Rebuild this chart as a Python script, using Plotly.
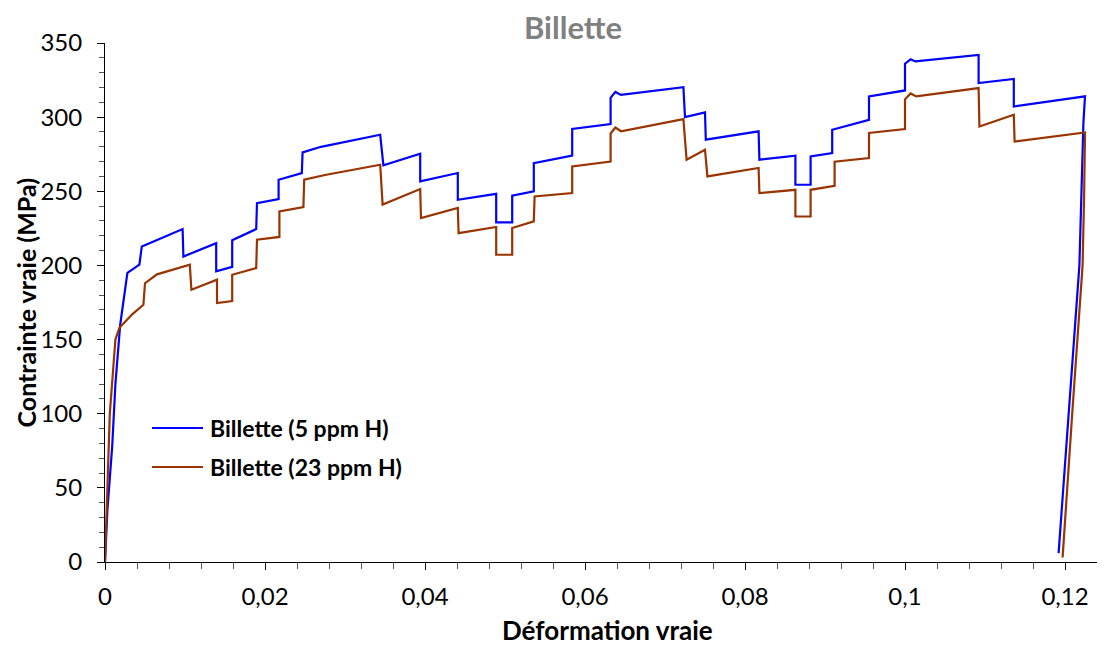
import plotly.graph_objects as go

# Billette (5 ppm H)
strain_5 = [0, 0.0003, 0.0009, 0.0013, 0.0019, 0.0028, 0.0043, 0.0046, 0.0060, 0.0097,
            0.0098, 0.0139, 0.0139, 0.0159, 0.0159, 0.0189, 0.0190, 0.0217, 0.0217, 0.0246,
            0.0247, 0.0270, 0.0344, 0.0348, 0.0394, 0.0394, 0.0441, 0.0441, 0.0489, 0.0489,
            0.0509, 0.0509, 0.0536, 0.0536, 0.0584, 0.0584, 0.0632, 0.0632, 0.0638, 0.0645,
            0.0723, 0.0725, 0.0750, 0.0751, 0.0817, 0.0818, 0.0863, 0.0863, 0.0882, 0.0882,
            0.0909, 0.0909, 0.0955, 0.0955, 0.1000, 0.1000, 0.1007, 0.1013, 0.1092, 0.1092,
            0.1136, 0.1136, 0.1225, 0.1223, 0.1218, 0.12045, 0.1192]
stress_5 = [0, 35, 78, 120, 160, 195, 200.5, 212.8, 216, 224.5,
            206, 215, 196, 199, 217, 224.5, 242, 244.8, 257.8, 262.3,
            276.2, 280, 288.1, 267.5, 275.3, 256.7, 262.3, 244.3, 248.3, 229,
            229, 247, 250, 269, 274, 292, 295.3, 313, 317, 315,
            320.2, 300, 303.2, 284.8, 290.4, 271.3, 274, 254.4, 254.4, 273.5,
            275.8, 291.5, 298.2, 314, 318, 336, 339, 337.6, 342, 323,
            325.7, 307.2, 314, 296, 200, 100, 6]

# Billette (23 ppm H)
strain_23 = [0, 0.0002, 0.0006, 0.0013, 0.0018, 0.0034, 0.0048, 0.0050, 0.0065, 0.0106,
             0.0108, 0.0140, 0.0140, 0.0159, 0.0159, 0.0189, 0.0190, 0.0218, 0.0218, 0.0248,
             0.0249, 0.0275, 0.0344, 0.0347, 0.0394, 0.0395, 0.0441, 0.0442, 0.0489, 0.0489,
             0.0509, 0.0509, 0.0536, 0.0537, 0.0584, 0.0584, 0.0632, 0.0632, 0.0638, 0.0645,
             0.0723, 0.0727, 0.0750, 0.0753, 0.0817, 0.0818, 0.0863, 0.0863, 0.0882, 0.0882,
             0.0912, 0.0912, 0.0955, 0.0955, 0.1000, 0.1000, 0.1007, 0.1014, 0.1092, 0.1093,
             0.1136, 0.1137, 0.1225, 0.1224, 0.1222, 0.1209, 0.1197]
stress_23 = [0, 38, 100, 150, 158, 167, 173.5, 188, 194, 200.5,
             183.6, 190.4, 174.6, 176, 193.7, 198.2, 217.3, 219.2, 236.4, 239.4,
             257.8, 261, 267.9, 241, 251.5, 232, 238.7, 221.8, 225.9, 207.2,
             207.2, 225.2, 229.7, 246.5, 248.8, 266.8, 270.1, 289, 293, 290.5,
             298.7, 271.3, 278, 260, 265.7, 248.8, 251, 233, 233, 251,
             253.7, 270, 272.4, 289.3, 292, 312, 316, 314, 319.6, 293.7,
             301.6, 283.6, 289.7, 250, 200, 100, 3]

series_names = ["Billette (5 ppm H)", "Billette (23 ppm H)"]
series_colors = ["#0000FF", "#993300"]

x_tick_vals = [0, 0.02, 0.04, 0.06, 0.08, 0.1, 0.12]
x_tick_text = ["0", "0,02", "0,04", "0,06", "0,08", "0,1", "0,12"]
y_tick_vals = [0, 50, 100, 150, 200, 250, 300, 350]

FONT = "Lato"

fig = go.Figure()
for xs, ys, nm, col in [(strain_5, stress_5, series_names[0], series_colors[0]),
                        (strain_23, stress_23, series_names[1], series_colors[1])]:
    fig.add_trace(go.Scatter(x=xs, y=ys, mode="lines", name=nm,
                             line=dict(color=col, width=2.2), showlegend=False))

# legend drawn manually (longer sample lines, as in the reference)
legend_y = [0.258, 0.183]
shapes = []
annotations = []
for ly, nm, col in zip(legend_y, series_names, series_colors):
    shapes.append(dict(type="line", xref="paper", yref="paper", x0=0.047, x1=0.098,
                       y0=ly, y1=ly, line=dict(color=col, width=2)))
    annotations.append(dict(text=nm, xref="paper", yref="paper", x=0.103, y=ly,
                            xanchor="left", yanchor="middle", showarrow=False,
                            font=dict(family=FONT, size=23, color="black", weight="bold")))

# axis titles
annotations.append(dict(text="Déformation vraie", xref="paper", yref="paper", x=0.502, y=-0.131,
                        xanchor="center", yanchor="middle", showarrow=False,
                        font=dict(family=FONT, size=26, color="black", weight="bold")))
annotations.append(dict(text="Contrainte vraie (MPa)", xref="paper", yref="paper", x=-0.080, y=0.5,
                        xanchor="center", yanchor="middle", showarrow=False, textangle=-90,
                        font=dict(family=FONT, size=25, color="black", weight="bold")))

fig.update_layout(
    width=1097, height=639,
    margin=dict(l=97, r=0, t=35, b=85),
    paper_bgcolor="white", plot_bgcolor="white",
    font=dict(family=FONT, color="black", size=20),
    title=dict(text="Billette", x=0.468, xref="paper", y=1 - 20 / 639, yref="container",
               xanchor="center", yanchor="middle",
               font=dict(family=FONT, size=31, color="#808080", weight="bold")),
    showlegend=False,
    shapes=shapes,
    annotations=annotations,
)
fig.update_xaxes(
    range=[0, 0.125], tickmode="array", tickvals=x_tick_vals, ticktext=x_tick_text,
    automargin=False,
    showgrid=False, zeroline=False, showline=True, linecolor="black", linewidth=1,
    ticks="outside", ticklen=7, tickcolor="black", ticklabelstandoff=6,
    tickfont=dict(family=FONT, size=24),
    minor=dict(tickmode="linear", tick0=0, dtick=0.004, ticks="outside", ticklen=6,
               tickcolor="#555555", showgrid=False),
)
fig.update_yaxes(
    range=[0, 350], tickmode="array", tickvals=y_tick_vals,
    automargin=False,
    showgrid=False, zeroline=False, showline=True, linecolor="black", linewidth=1,
    ticks="outside", ticklen=7, tickcolor="black", ticklabelstandoff=10,
    tickfont=dict(family=FONT, size=24),
    minor=dict(tickmode="linear", tick0=0, dtick=10, ticks="outside", ticklen=5,
               tickcolor="#555555", showgrid=False),
)

fig.write_html("out.html")
